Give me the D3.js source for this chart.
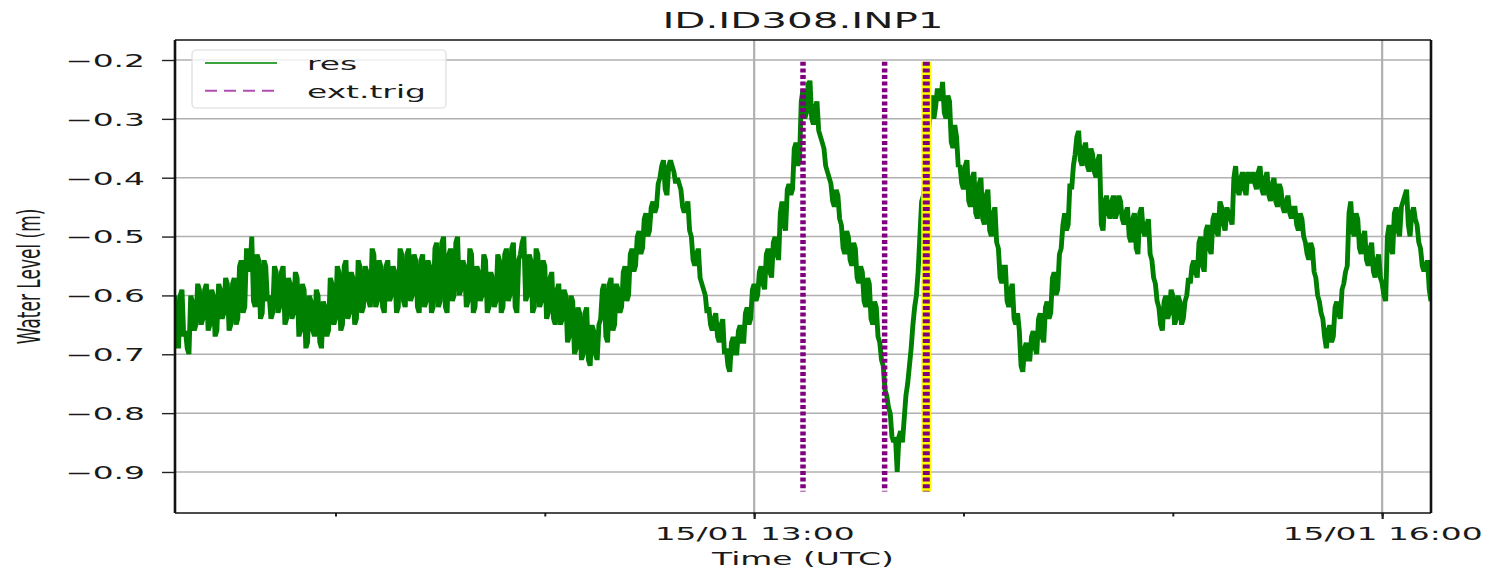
<!DOCTYPE html>
<html>
<head>
<meta charset="utf-8">
<script src="https://cdn.jsdelivr.net/npm/d3@7"></script>
<style>
body { margin: 0; background: #fff; }
text { font-family: "DejaVu Sans", sans-serif; fill: #1a1a1a; }
</style>
</head>
<body>
<div id="chart"></div>
<script>
// residual water level: samples on each minute from startTime...
var startTime = "2024-01-15T10:14:00Z";
var waterLevel = [
  -0.60, -0.69, -0.59, -0.66, -0.70, -0.61, -0.65, -0.59, -0.64, -0.58,
  -0.65, -0.60, -0.66, -0.59, -0.63, -0.58, -0.65, -0.57, -0.64, -0.54,
  -0.62, -0.53, -0.50, -0.62, -0.54, -0.63, -0.55, -0.60, -0.63, -0.56,
  -0.62, -0.55, -0.64, -0.58, -0.63, -0.57, -0.66, -0.59, -0.68, -0.61,
  -0.67, -0.60, -0.69, -0.62, -0.66, -0.58, -0.64, -0.56, -0.65, -0.54,
  -0.63, -0.57, -0.64, -0.55, -0.62, -0.56, -0.62, -0.53, -0.61, -0.55,
  -0.63, -0.54, -0.60, -0.56, -0.62, -0.53, -0.62, -0.52, -0.60, -0.54,
  -0.63, -0.53, -0.61, -0.55, -0.62, -0.51, -0.61, -0.50, -0.63, -0.52,
  -0.60, -0.50, -0.59, -0.55, -0.61, -0.53, -0.62, -0.56, -0.60, -0.54,
  -0.62, -0.57, -0.61, -0.54, -0.62, -0.52, -0.60, -0.51, -0.63, -0.53,
  -0.50, -0.60, -0.54, -0.62, -0.53, -0.61, -0.55, -0.63, -0.56, -0.65,
  -0.58, -0.64, -0.60, -0.67, -0.61, -0.69, -0.63, -0.70, -0.62, -0.72,
  -0.66, -0.71, -0.64, -0.58, -0.68, -0.57, -0.65, -0.59, -0.62, -0.55,
  -0.60, -0.52, -0.55, -0.49, -0.52, -0.46, -0.49, -0.44, -0.45, -0.40,
  -0.37, -0.43, -0.37, -0.39, -0.40, -0.42, -0.46, -0.44, -0.50, -0.55,
  -0.52, -0.58, -0.60, -0.62, -0.66, -0.63, -0.68, -0.64, -0.69, -0.73,
  -0.67, -0.70, -0.65, -0.68, -0.62, -0.64, -0.58, -0.60, -0.55, -0.59,
  -0.52, -0.57, -0.50, -0.54, -0.44, -0.49, -0.41, -0.42, -0.34, -0.37,
  -0.25, -0.29, -0.235, -0.31, -0.27, -0.33, -0.35, -0.39, -0.41, -0.45,
  -0.43, -0.48, -0.53, -0.50, -0.55, -0.52, -0.58, -0.56, -0.62, -0.58,
  -0.65, -0.62, -0.68, -0.72, -0.77, -0.80, -0.85, -0.90, -0.83, -0.81,
  -0.75, -0.69, -0.62, -0.56, -0.44, -0.40, -0.32, -0.26, -0.28, -0.25,
  -0.237, -0.30, -0.27, -0.35, -0.33, -0.38, -0.42, -0.37, -0.45, -0.39,
  -0.47, -0.40, -0.48, -0.42, -0.50, -0.45, -0.52, -0.58, -0.55, -0.62,
  -0.58, -0.65, -0.66, -0.73, -0.68, -0.71, -0.66, -0.70, -0.63, -0.68,
  -0.61, -0.63, -0.56, -0.59, -0.52, -0.46, -0.48, -0.42, -0.36, -0.32,
  -0.38, -0.34, -0.39, -0.36, -0.40, -0.36, -0.49, -0.43, -0.47, -0.43,
  -0.46, -0.44, -0.48, -0.45, -0.51, -0.46, -0.53, -0.45, -0.50, -0.47,
  -0.54, -0.58, -0.62, -0.66, -0.60, -0.63, -0.60, -0.64, -0.61, -0.64,
  -0.60, -0.58, -0.54, -0.57, -0.50, -0.56, -0.48, -0.53, -0.46, -0.50,
  -0.45, -0.49, -0.46, -0.48, -0.38, -0.43, -0.39, -0.43, -0.40, -0.39,
  -0.42, -0.38, -0.43, -0.39, -0.44, -0.40, -0.45, -0.42, -0.46, -0.43,
  -0.47, -0.45, -0.49, -0.47, -0.51, -0.54, -0.52, -0.57, -0.61, -0.64,
  -0.69, -0.65, -0.67, -0.61, -0.64, -0.58, -0.55, -0.44, -0.50, -0.47,
  -0.53, -0.49, -0.55, -0.51, -0.57, -0.53, -0.58, -0.61, -0.48, -0.53,
  -0.45, -0.50, -0.44, -0.42, -0.50, -0.45, -0.48, -0.52, -0.56, -0.54,
  -0.61
];
// ...and the samples half a minute later
var waterLevelHalf = [
  -0.68, -0.60, -0.67, -0.69, -0.60, -0.66, -0.58, -0.65, -0.59, -0.66,
  -0.59, -0.67, -0.58, -0.64, -0.57, -0.66, -0.58, -0.65, -0.55, -0.63,
  -0.52, -0.56, -0.61, -0.53, -0.64, -0.54, -0.61, -0.64, -0.55, -0.63,
  -0.56, -0.65, -0.57, -0.64, -0.56, -0.67, -0.58, -0.69, -0.60, -0.66,
  -0.59, -0.68, -0.61, -0.67, -0.57, -0.65, -0.55, -0.66, -0.55, -0.64,
  -0.56, -0.65, -0.54, -0.63, -0.55, -0.61, -0.52, -0.62, -0.54, -0.62,
  -0.55, -0.61, -0.55, -0.63, -0.52, -0.61, -0.53, -0.61, -0.53, -0.62,
  -0.54, -0.62, -0.54, -0.63, -0.52, -0.62, -0.51, -0.62, -0.53, -0.61,
  -0.51, -0.60, -0.54, -0.62, -0.52, -0.63, -0.55, -0.61, -0.53, -0.63,
  -0.56, -0.62, -0.53, -0.63, -0.53, -0.61, -0.52, -0.62, -0.54, -0.51,
  -0.61, -0.53, -0.63, -0.52, -0.62, -0.54, -0.64, -0.57, -0.64, -0.59,
  -0.65, -0.59, -0.68, -0.60, -0.70, -0.62, -0.71, -0.63, -0.71, -0.65,
  -0.70, -0.65, -0.59, -0.67, -0.58, -0.66, -0.58, -0.63, -0.56, -0.61,
  -0.53, -0.56, -0.50, -0.53, -0.47, -0.50, -0.45, -0.46, -0.41, -0.38,
  -0.42, -0.38, -0.38, -0.41, -0.41, -0.45, -0.45, -0.49, -0.54, -0.53,
  -0.57, -0.59, -0.63, -0.65, -0.64, -0.67, -0.65, -0.70, -0.72, -0.68,
  -0.70, -0.66, -0.68, -0.63, -0.65, -0.59, -0.61, -0.56, -0.58, -0.53,
  -0.56, -0.51, -0.53, -0.46, -0.48, -0.42, -0.43, -0.35, -0.38, -0.27,
  -0.30, -0.24, -0.30, -0.28, -0.32, -0.34, -0.38, -0.40, -0.44, -0.42,
  -0.47, -0.52, -0.49, -0.54, -0.51, -0.57, -0.55, -0.61, -0.57, -0.64,
  -0.61, -0.67, -0.71, -0.76, -0.79, -0.84, -0.84, -0.84, -0.85, -0.77,
  -0.72, -0.65, -0.60, -0.50, -0.43, -0.36, -0.27, -0.30, -0.25, -0.27,
  -0.29, -0.26, -0.34, -0.31, -0.38, -0.41, -0.38, -0.44, -0.40, -0.46,
  -0.41, -0.47, -0.43, -0.49, -0.46, -0.51, -0.57, -0.55, -0.61, -0.59,
  -0.64, -0.63, -0.72, -0.69, -0.71, -0.67, -0.69, -0.64, -0.67, -0.62,
  -0.64, -0.57, -0.60, -0.53, -0.48, -0.49, -0.41, -0.38, -0.33, -0.37,
  -0.35, -0.38, -0.35, -0.39, -0.37, -0.48, -0.44, -0.46, -0.44, -0.47,
  -0.43, -0.47, -0.46, -0.50, -0.47, -0.52, -0.46, -0.49, -0.48, -0.53,
  -0.57, -0.61, -0.65, -0.61, -0.64, -0.59, -0.65, -0.60, -0.65, -0.61,
  -0.57, -0.55, -0.56, -0.51, -0.55, -0.49, -0.52, -0.47, -0.49, -0.44,
  -0.48, -0.45, -0.47, -0.40, -0.42, -0.40, -0.42, -0.39, -0.41, -0.41,
  -0.39, -0.42, -0.40, -0.43, -0.41, -0.44, -0.41, -0.45, -0.44, -0.46,
  -0.45, -0.48, -0.46, -0.50, -0.53, -0.51, -0.56, -0.60, -0.63, -0.67,
  -0.66, -0.68, -0.62, -0.63, -0.59, -0.56, -0.46, -0.49, -0.46, -0.52,
  -0.50, -0.54, -0.52, -0.56, -0.54, -0.57, -0.60, -0.50, -0.52, -0.46,
  -0.49, -0.45, -0.43, -0.48, -0.46, -0.47, -0.51, -0.55, -0.55, -0.59
];

var extTrig = ["2024-01-15T13:14:00Z", "2024-01-15T13:37:24Z"];
var extTrigMarked = ["2024-01-15T13:49:20Z"];
var trigSpan = [-0.933, -0.203];

var xDomain = ["2024-01-15T10:14:00Z", "2024-01-15T16:14:00Z"];
var yDomain = [-0.9697, -0.166];
var majorTicks = ["2024-01-15T13:00:00Z", "2024-01-15T16:00:00Z"];
var yTicks = [-0.9, -0.8, -0.7, -0.6, -0.5, -0.4, -0.3, -0.2];

var width = 1488;
var height = 568;
var margin = { left: 175, right: 57, top: 40, bottom: 55 };
var sx = 1.88; // the picture is stretched sideways, text and strokes with it

var parse = d3.isoParse;
var t0 = parse(startTime);
var data = [];
waterLevel.forEach(function (v, i) {
    data.push({ time: d3.utcSecond.offset(t0, i * 60), value: v });
    if (i < waterLevelHalf.length) {
        data.push({ time: d3.utcSecond.offset(t0, i * 60 + 30), value: waterLevelHalf[i] });
    }
});

var svg = d3.select("#chart")
    .append("svg")
    .attr("width", width)
    .attr("height", height);

var xScale = d3.scaleUtc()
    .domain(xDomain.map(parse))
    .range([margin.left, width - margin.right]);

var yScale = d3.scaleLinear()
    .domain(yDomain)
    .range([height - margin.bottom, margin.top]);

var x0 = margin.left, x1 = width - margin.right;
var y0 = margin.top, y1 = height - margin.bottom;

function stretch(x, y) {
    return "translate(" + x + "," + y + ") scale(" + sx + ",1)";
}

svg.append("defs").append("clipPath")
    .attr("id", "plot-clip")
    .append("rect")
    .attr("x", x0).attr("y", y0)
    .attr("width", x1 - x0).attr("height", y1 - y0);

// grid
svg.append("g").selectAll("line")
    .data(yTicks)
    .enter()
    .append("line")
    .attr("x1", x0).attr("x2", x1)
    .attr("y1", function (d) { return yScale(d); })
    .attr("y2", function (d) { return yScale(d); })
    .attr("stroke", "#b0b0b0")
    .attr("stroke-width", 1.5);

svg.append("g").selectAll("line")
    .data(majorTicks.map(parse))
    .enter()
    .append("line")
    .attr("x1", function (d) { return xScale(d); })
    .attr("x2", function (d) { return xScale(d); })
    .attr("y1", y0).attr("y2", y1)
    .attr("stroke", "#b0b0b0")
    .attr("stroke-width", 2.2);

// residual series, drawn in a sideways-stretched group so vertical strokes widen
svg.append("g")
    .attr("clip-path", "url(#plot-clip)")
    .append("g")
    .attr("transform", "scale(" + sx + ",1)")
    .append("path")
    .datum(data)
    .attr("fill", "none")
    .attr("stroke", "green")
    .attr("stroke-width", 2.6)
    .attr("stroke-linejoin", "miter")
    .attr("d", d3.line()
        .x(function (d) { return xScale(d.time) / sx; })
        .y(function (d) { return yScale(d.value); })
    );

// trigger markers
svg.append("g").selectAll("line")
    .data(extTrigMarked.map(parse))
    .enter()
    .append("line")
    .attr("x1", function (d) { return xScale(d); })
    .attr("x2", function (d) { return xScale(d); })
    .attr("y1", yScale(trigSpan[0]))
    .attr("y2", yScale(trigSpan[1]))
    .attr("stroke", "#ffff00")
    .attr("stroke-width", 10);

svg.append("g").selectAll("line")
    .data(extTrig.concat(extTrigMarked).map(parse))
    .enter()
    .append("line")
    .attr("x1", function (d) { return xScale(d); })
    .attr("x2", function (d) { return xScale(d); })
    .attr("y1", yScale(trigSpan[1]))
    .attr("y2", yScale(trigSpan[0]))
    .attr("stroke", "#800080")
    .attr("stroke-width", function (d, i) { return i < extTrig.length ? 5.5 : 7; })
    .attr("stroke-dasharray", "4,2.6");

// legend
var legend = svg.append("g").attr("class", "legend");

legend.append("rect")
    .attr("x", 192).attr("y", 50)
    .attr("width", 254).attr("height", 58)
    .attr("rx", 4)
    .attr("fill", "white")
    .attr("fill-opacity", 0.8)
    .attr("stroke", "#dcdcdc")
    .attr("stroke-width", 1.2);

var legendItems = [
    { label: "res", color: "#3da43d", dash: null },
    { label: "ext.trig", color: "#b24db2", dash: "12,7" }
];

legend.selectAll("line.item")
    .data(legendItems)
    .enter()
    .append("line")
    .attr("class", "item")
    .attr("x1", 205).attr("x2", 277)
    .attr("y1", function (d, i) { return 63 + i * 27.7; })
    .attr("y2", function (d, i) { return 63 + i * 27.7; })
    .attr("stroke", function (d) { return d.color; })
    .attr("stroke-width", 2)
    .attr("stroke-dasharray", function (d) { return d.dash; });

legend.selectAll("text")
    .data(legendItems)
    .enter()
    .append("text")
    .attr("transform", function (d, i) { return stretch(307, 69.5 + i * 28.5); })
    .style("font-size", "17.5px")
    .text(function (d) { return d.label; });

// axes
var yAxis = svg.append("g")
    .attr("transform", "translate(" + x0 + ",0)")
    .call(d3.axisLeft(yScale).tickValues(yTicks).tickSize(13).tickFormat(d3.format(".1f")));
yAxis.select(".domain").remove();
yAxis.selectAll(".tick line").attr("stroke", "#222").attr("stroke-width", 1.4);
yAxis.selectAll(".tick text")
    .attr("x", null).attr("dy", "0.36em")
    .attr("transform", stretch(-30, 0))
    .attr("fill", "#1a1a1a")
    .style("font-size", "17.5px")
    .style("font-family", "DejaVu Sans");

var xMajor = svg.append("g")
    .attr("transform", "translate(0," + y1 + ")")
    .call(d3.axisBottom(xScale).tickValues(majorTicks.map(parse)).tickSize(6)
        .tickFormat(d3.utcFormat("%d/%m %H:%M")));
xMajor.select(".domain").remove();
xMajor.selectAll(".tick line").attr("stroke", "#222").attr("stroke-width", 2.2);
xMajor.selectAll(".tick text")
    .attr("y", null).attr("dy", null)
    .attr("transform", stretch(0, 27))
    .attr("fill", "#1a1a1a")
    .style("font-size", "17.5px")
    .style("font-family", "DejaVu Sans");

var minorTicks = d3.utcHour.range(xScale.domain()[0], xScale.domain()[1]);
var xMinor = svg.append("g")
    .attr("transform", "translate(0," + y1 + ")")
    .call(d3.axisBottom(xScale).tickValues(minorTicks).tickSize(3.5).tickFormat(""));
xMinor.select(".domain").remove();
xMinor.selectAll(".tick line").attr("stroke", "#222").attr("stroke-width", 2);

// frame
var frame = svg.append("g").attr("stroke", "#111");
frame.append("line").attr("x1", x0).attr("x2", x1).attr("y1", y0).attr("y2", y0).attr("stroke-width", 1.5);
frame.append("line").attr("x1", x0).attr("x2", x1).attr("y1", y1).attr("y2", y1).attr("stroke-width", 1.5);
frame.append("line").attr("x1", x0).attr("x2", x0).attr("y1", y0).attr("y2", y1).attr("stroke-width", 2.6);
frame.append("line").attr("x1", x1).attr("x2", x1).attr("y1", y0).attr("y2", y1).attr("stroke-width", 2.6);

// titles
svg.append("text")
    .attr("transform", stretch((x0 + x1) / 2, 28))
    .style("text-anchor", "middle")
    .style("font-size", "21.5px")
    .text("ID.ID308.INP1");

svg.append("text")
    .attr("transform", stretch((x0 + x1) / 2, 565))
    .style("text-anchor", "middle")
    .style("font-size", "17.5px")
    .text("Time (UTC)");

svg.append("text")
    .attr("transform", "translate(40," + ((y0 + y1) / 2) + ") scale(" + sx + ",1) rotate(-90)")
    .style("text-anchor", "middle")
    .style("font-size", "17px")
    .text("Water Level (m)");
</script>
</body>
</html>
